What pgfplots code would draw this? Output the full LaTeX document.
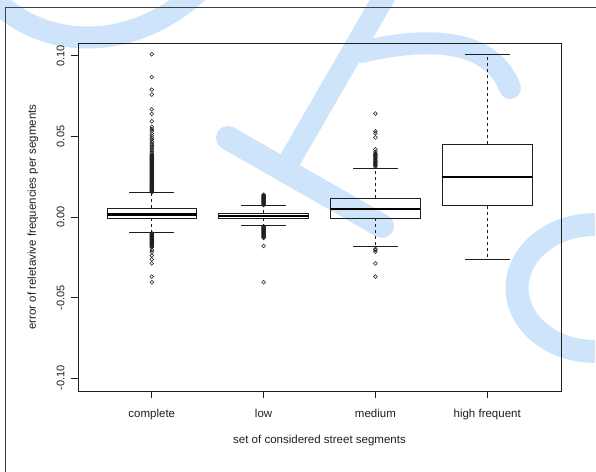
\documentclass[border=0pt]{standalone}
\usepackage{pgfplots}
\pgfplotsset{compat=1.18}
\usepackage{fontspec}
\setmainfont{Liberation Sans}
\definecolor{wm}{RGB}{206,228,251}
\definecolor{ink}{RGB}{30,30,30}
\begin{document}
\begin{tikzpicture}
% watermark strokes (decoration, behind the chart)
\begin{scope}[wm, line width=22pt, line cap=round]
\draw (-10pt,476pt) .. controls (40pt,421pt) and (130pt,416pt) .. (200pt,481pt);
\draw[line cap=butt] (391pt,486pt) -- (290pt,311pt);
\draw (362pt,419pt) .. controls (420pt,433pt) and (490pt,436pt) .. (510pt,383pt);
\draw[line width=24pt] (228pt,333pt) -- (382pt,245pt);
\draw[line width=23pt, line cap=butt] (595pt,246.5pt) arc[start angle=90, end angle=270, x radius=78pt, y radius=63.5pt];
\end{scope}
% outer frame
\draw[gray!50!black, line width=0.9pt] (5pt,-5pt) -- (5pt,464pt) -- (605pt,464pt);
\begin{axis}[
  at={(78pt,80pt)}, anchor=south west,
  scale only axis, width=483pt, height=348pt,
  clip=false,
  unbounded coords=jump,
  xmin=0.34, xmax=4.66, ymin=-0.108, ymax=0.108,
  axis line style={ink, line width=0.8pt},
  tick style={ink, line width=0.8pt},
  tick align=outside, major tick length=7pt,
  tick pos=left,
  xtick={1,2,3,4},
  xticklabels={complete,low,medium,high frequent},
  ytick={-0.1,-0.05,0,0.05,0.1},
  scaled y ticks=false,
  /pgf/number format/assume math mode=true,
  yticklabel style={/pgf/number format/fixed, /pgf/number format/fixed zerofill, /pgf/number format/precision=2,
    xshift=-3pt, rotate=90, anchor=south, font=\fontsize{11}{13}\selectfont, text=ink},
  xticklabel style={yshift=-8pt, font=\fontsize{11.5}{13}\selectfont, text=ink},
  xlabel={set of considered street segments},
  ylabel={error of reletavive frequencies per segments},
  label style={font=\fontsize{11.5}{13}\selectfont, text=ink},
  xlabel style={at={(axis description cs:0.5,-0.143)}, anchor=center},
  ylabel style={at={(axis description cs:-0.0932,0.5)}, anchor=center},
  bx/.style={ink, line width=0.8pt, mark=none, line join=miter},
  wh/.style={ink, line width=0.8pt, mark=none, dash pattern=on 3pt off 3pt},
  md/.style={black, line width=2.4pt, mark=none},
  outl/.style={only marks, mark=o, mark size=1.9pt, mark options={ink, line width=0.55pt, solid}},
]
% boxes (lower quartile, upper quartile)
\addplot[bx] coordinates {
  (1,-0.0006) (1.4,-0.0006) (1.4,0.0056) (0.6,0.0056) (0.6,-0.0006) (1,-0.0006) (nan,nan)
  (2,-0.0009) (2.4,-0.0009) (2.4,0.0025) (1.6,0.0025) (1.6,-0.0009) (2,-0.0009) (nan,nan)
  (3,-0.0009) (3.4,-0.0009) (3.4,0.0115) (2.6,0.0115) (2.6,-0.0009) (3,-0.0009) (nan,nan)
  (4,0.0070) (4.4,0.0070) (4.4,0.0450) (3.6,0.0450) (3.6,0.0070) (4,0.0070)
};
% whisker caps
\addplot[bx] coordinates {
  (0.8,-0.0097) (1.2,-0.0097) (nan,nan) (0.8,0.0150) (1.2,0.0150) (nan,nan)
  (1.8,-0.0054) (2.2,-0.0054) (nan,nan) (1.8,0.0070) (2.2,0.0070) (nan,nan)
  (2.8,-0.0185) (3.2,-0.0185) (nan,nan) (2.8,0.0302) (3.2,0.0302) (nan,nan)
  (3.8,-0.0263) (4.2,-0.0263) (nan,nan) (3.8,0.1010) (4.2,0.1010)
};
% whiskers (dashed)
\addplot[wh] coordinates {
  (1,-0.0006) (1,-0.0097) (nan,nan) (1,0.0056) (1,0.0150) (nan,nan)
  (2,-0.0009) (2,-0.0054) (nan,nan) (2,0.0025) (2,0.0070) (nan,nan)
  (3,-0.0009) (3,-0.0185) (nan,nan) (3,0.0115) (3,0.0302) (nan,nan)
  (4,0.0070) (4,-0.0263) (nan,nan) (4,0.0450) (4,0.1010)
};
% medians
\addplot[md] coordinates {
  (0.6,0.0016) (1.4,0.0016) (nan,nan)
  (1.6,0.0006) (2.4,0.0006) (nan,nan)
  (2.6,0.0051) (3.4,0.0051) (nan,nan)
  (3.6,0.0250) (4.4,0.0250)
};
% outliers: complete
\addplot[outl] coordinates {
  (1,0.0154) (1,0.0158) (1,0.0162) (1,0.0166) (1,0.0170) (1,0.0174) (1,0.0178) (1,0.0182) (1,0.0186) (1,0.0190)
  (1,0.0194) (1,0.0198) (1,0.0202) (1,0.0206) (1,0.0210) (1,0.0214) (1,0.0218) (1,0.0222) (1,0.0226) (1,0.0230)
  (1,0.0234) (1,0.0238) (1,0.0242) (1,0.0246) (1,0.0250) (1,0.0254) (1,0.0258) (1,0.0262) (1,0.0266) (1,0.0270)
  (1,0.0274) (1,0.0278) (1,0.0282) (1,0.0286) (1,0.0290) (1,0.0294) (1,0.0298) (1,0.0302) (1,0.0306) (1,0.0310)
  (1,0.0314) (1,0.0318) (1,0.0322) (1,0.0326) (1,0.0330) (1,0.0334) (1,0.0338) (1,0.0342) (1,0.0346) (1,0.0350)
  (1,0.0354) (1,0.0358) (1,0.0362) (1,0.0366) (1,0.0370) (1,0.0374) (1,0.0378) (1,0.0382) (1,0.0386)
  (1,0.0395) (1,0.0405) (1,0.0415) (1,0.0425) (1,0.0436) (1,0.0445) (1,0.0455) (1,0.0467) (1,0.0480) (1,0.0490)
  (1,0.0505) (1,0.0518) (1,0.0535) (1,0.0545) (1,0.0560) (1,0.0594) (1,0.0640) (1,0.0668) (1,0.0760) (1,0.0790)
  (1,0.0868) (1,0.1010)
  (1,-0.0100) (1,-0.0104) (1,-0.0108) (1,-0.0112) (1,-0.0116) (1,-0.0120) (1,-0.0124) (1,-0.0128) (1,-0.0132)
  (1,-0.0136) (1,-0.0140) (1,-0.0144) (1,-0.0148) (1,-0.0152) (1,-0.0156) (1,-0.0160) (1,-0.0164) (1,-0.0168)
  (1,-0.0172) (1,-0.0176) (1,-0.0180) (1,-0.0184) (1,-0.0188)
  (1,-0.0205) (1,-0.0218) (1,-0.0239) (1,-0.0263) (1,-0.0288) (1,-0.0370) (1,-0.0405)
};
% outliers: low
\addplot[outl] coordinates {
  (2,0.0074) (2,0.0078) (2,0.0082) (2,0.0086) (2,0.0090) (2,0.0094) (2,0.0098) (2,0.0102) (2,0.0106)
  (2,0.0110) (2,0.0114) (2,0.0118) (2,0.0122) (2,0.0126) (2,0.0130) (2,0.0134) (2,0.0138)
  (2,-0.0058) (2,-0.0062) (2,-0.0066) (2,-0.0070) (2,-0.0074) (2,-0.0078) (2,-0.0082) (2,-0.0086) (2,-0.0090)
  (2,-0.0094) (2,-0.0098) (2,-0.0102) (2,-0.0106) (2,-0.0110) (2,-0.0114) (2,-0.0118) (2,-0.0122) (2,-0.0126)
  (2,-0.0130) (2,-0.0180) (2,-0.0405)
};
% outliers: medium
\addplot[outl] coordinates {
  (3,0.0312) (3,0.0318) (3,0.0324) (3,0.0330) (3,0.0336) (3,0.0342) (3,0.0348) (3,0.0354) (3,0.0360)
  (3,0.0366) (3,0.0372) (3,0.0378) (3,0.0384) (3,0.0390) (3,0.0396) (3,0.0405) (3,0.0420) (3,0.0494)
  (3,0.0520) (3,0.0532) (3,0.0642)
  (3,-0.0198) (3,-0.0205) (3,-0.0216) (3,-0.0288) (3,-0.0370)
};
\end{axis}
\pgfresetboundingbox
\useasboundingbox (0pt,0pt) rectangle (596pt,471pt);
\end{tikzpicture}
\end{document}
